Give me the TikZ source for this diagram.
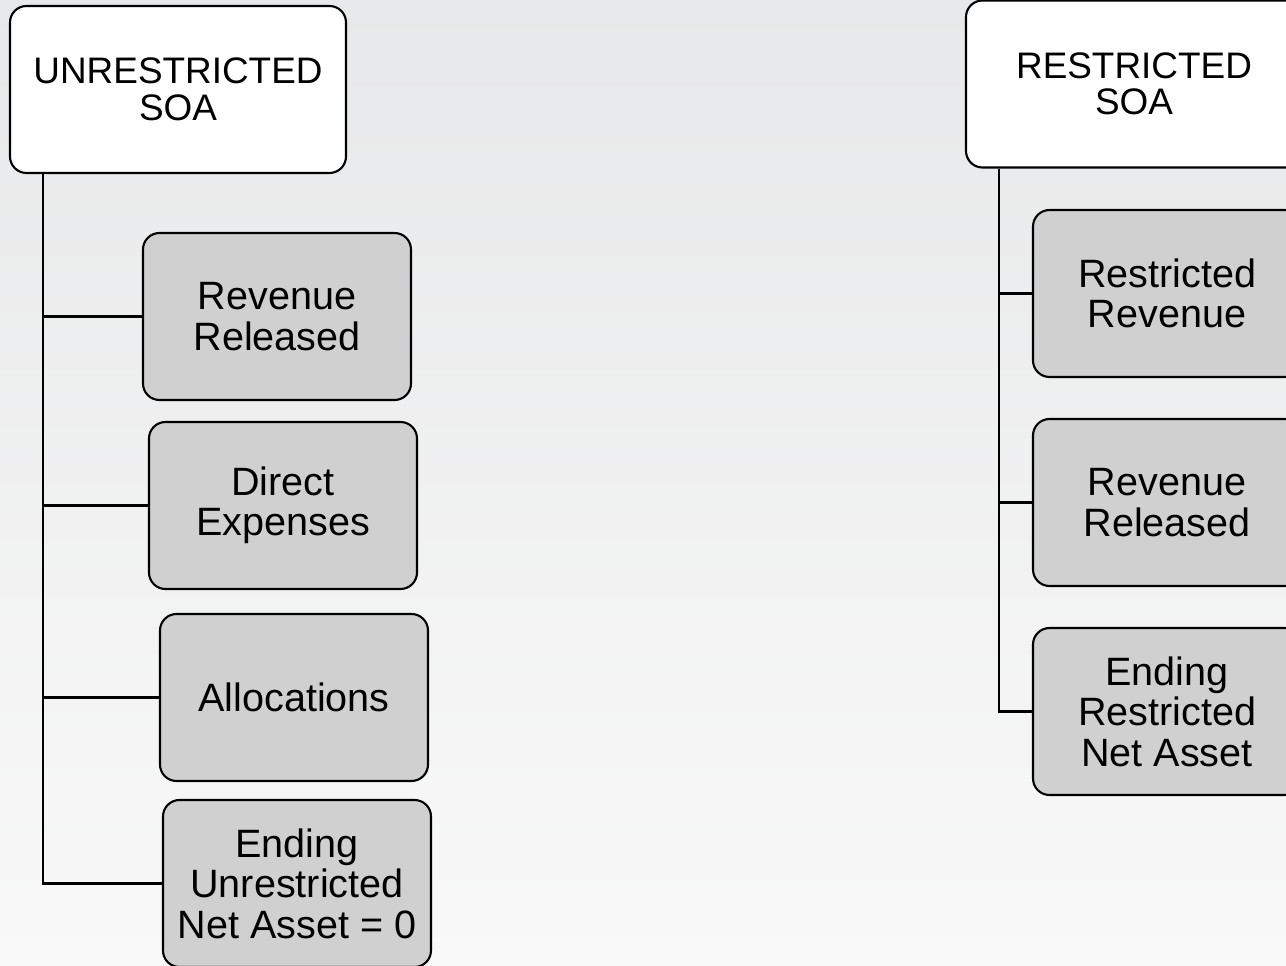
\documentclass[tikz,border=0pt]{standalone}
\usepackage{fontspec}
\setmainfont{Liberation Sans}
\definecolor{bgtop}{RGB}{231,232,233}
\definecolor{bgbottom}{RGB}{249,249,249}
\definecolor{boxgray}{RGB}{208,208,208}
\tikzstyle{soa} = [rectangle, rounded corners=0.33cm, minimum width=6.72cm, minimum height=3.34cm, text centered, align=center, draw=black, line width=1.2pt, fill=white, font=\fontsize{21pt}{20.8pt}\selectfont]
\tikzstyle{item} = [rectangle, rounded corners=0.33cm, minimum width=5.36cm, minimum height=3.34cm, inner sep=2pt, text centered, align=center, draw=black, line width=1.2pt, fill=boxgray, font=\fontsize{22.5pt}{23pt}\selectfont]
\tikzstyle{branch} = [line width=1.4pt]
\begin{document}
\begin{tikzpicture}

\useasboundingbox (0,0) rectangle (25.72,-19.32);
\clip (0,0) rectangle (25.72,-19.32);
\shade [top color=bgtop, bottom color=bgbottom] (0,0) rectangle (25.72,-19.32);

\node (unres) [soa] at (3.56,-1.79) {UNRESTRICTED\\SOA};
\node (revL) [item, below of=unres, node distance=4.54cm, xshift=1.98cm] {Revenue\\Released};
\node (direct) [item, below of=revL, node distance=3.78cm, xshift=0.12cm] {Direct\\Expenses};
\node (alloc) [item, below of=direct, node distance=3.84cm, xshift=0.22cm] {Allocations};
\node (endL) [item, below of=alloc, node distance=3.72cm, xshift=0.06cm] {Ending\\Unrestricted\\Net Asset = 0};

\node (res) [soa] at (22.68,-1.68) {RESTRICTED\\SOA};
\node (resrev) [item, below of=res, node distance=4.19cm, xshift=0.66cm] {Restricted\\Revenue};
\node (revR) [item, below of=resrev, node distance=4.18cm] {Revenue\\Released};
\node (endR) [item, below of=revR, node distance=4.18cm] {Ending\\Restricted\\Net Asset};

\coordinate (ltrunk) at ([xshift=0.68cm]unres.south west);
\coordinate (rtrunk) at ([xshift=0.68cm]res.south west);

\draw [branch] (ltrunk) |- (revL.west);
\draw [branch] (ltrunk) |- (direct.west);
\draw [branch] (ltrunk) |- (alloc.west);
\draw [branch] (ltrunk) |- (endL.west);

\draw [branch] (rtrunk) |- (resrev.west);
\draw [branch] (rtrunk) |- (revR.west);
\draw [branch] (rtrunk) |- (endR.west);

\end{tikzpicture}
\end{document}
